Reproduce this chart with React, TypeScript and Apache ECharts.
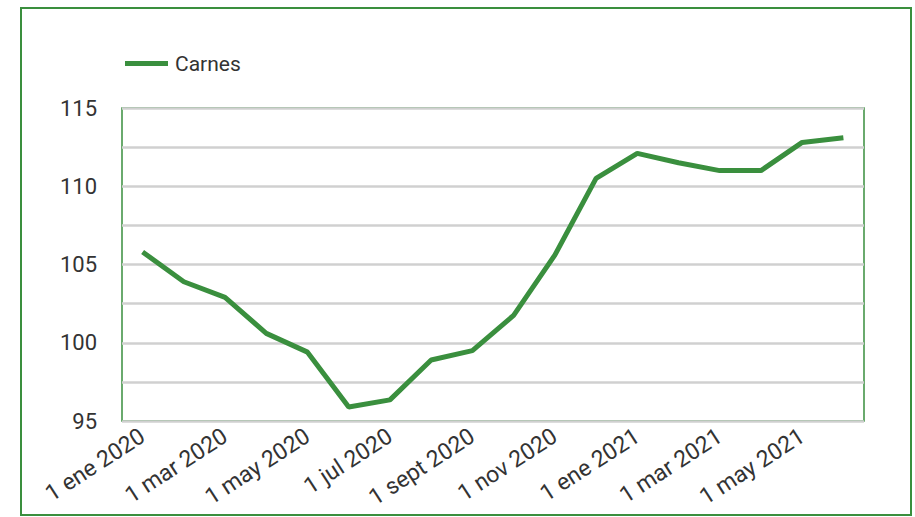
import React, { useEffect, useRef } from "react";
import * as echarts from "echarts";

const categories = [
  "1 ene 2020", "1 feb 2020", "1 mar 2020", "1 abr 2020", "1 may 2020", "1 jun 2020",
  "1 jul 2020", "1 ago 2020", "1 sept 2020", "1 oct 2020", "1 nov 2020", "1 dic 2020",
  "1 ene 2021", "1 feb 2021", "1 mar 2021", "1 abr 2021", "1 may 2021", "1 jun 2021",
];
const carnes = [
  105.8, 103.9, 102.9, 100.6, 99.4, 95.9, 96.35, 98.9, 99.5, 101.75, 105.6, 110.5,
  112.1, 111.5, 111.0, 111.0, 112.8, 113.1,
];
const seriesName = "Carnes";
const yMin = 95;
const yMax = 115;

const GREEN = "#3a8f3e";

export default function App() {
  const ref = useRef<HTMLDivElement>(null);
  useEffect(() => {
    if (!ref.current) return;
    const chart = echarts.init(ref.current, undefined, { renderer: "svg" });
    chart.setOption({
      animation: false,
      backgroundColor: "#fff",
      graphic: [
        {
          type: "rect",
          shape: { x: 21, y: 8, width: 890, height: 507 },
          style: { fill: "none", stroke: GREEN, lineWidth: 2 },
          silent: true,
        },
      ],
      legend: {
        left: 120,
        top: 48,
        icon: "rect",
        itemWidth: 43,
        itemHeight: 5,
        textStyle: { fontFamily: "Roboto", fontSize: 21, color: "#333", padding: [0, 0, 0, 2] },
        data: [seriesName],
      },
      grid: {
        left: 122,
        right: 51,
        top: 108,
        bottom: 96,
        show: true,
        borderColor: GREEN,
        borderWidth: 1.5,
        containLabel: false,
      },
      xAxis: {
        type: "category",
        data: categories,
        boundaryGap: true,
        axisLine: { show: false },
        axisTick: { show: false },
        axisLabel: {
          interval: 1,
          rotate: 33,
          fontFamily: "Roboto",
          fontSize: 23,
          color: "#333",
          margin: 13,
        },
      },
      yAxis: {
        type: "value",
        min: yMin,
        max: yMax,
        interval: 2.5,
        axisLine: { show: false },
        axisTick: { show: false },
        splitLine: { show: true, lineStyle: { color: "#d0d0d0", width: 2.5 } },
        axisLabel: {
          fontFamily: "Roboto",
          fontSize: 22,
          color: "#333",
          margin: 25,
          formatter: (v: number) => (v % 5 === 0 ? String(v) : ""),
        },
      },
      series: [
        {
          name: seriesName,
          type: "line",
          data: carnes,
          symbol: "none",
          lineStyle: { color: GREEN, width: 5 },
          itemStyle: { color: GREEN },
        },
      ],
    });
    return () => chart.dispose();
  }, []);
  return <div ref={ref} style={{ width: 915, height: 517, position: "absolute", left: 0, top: 0 }} />;
}
